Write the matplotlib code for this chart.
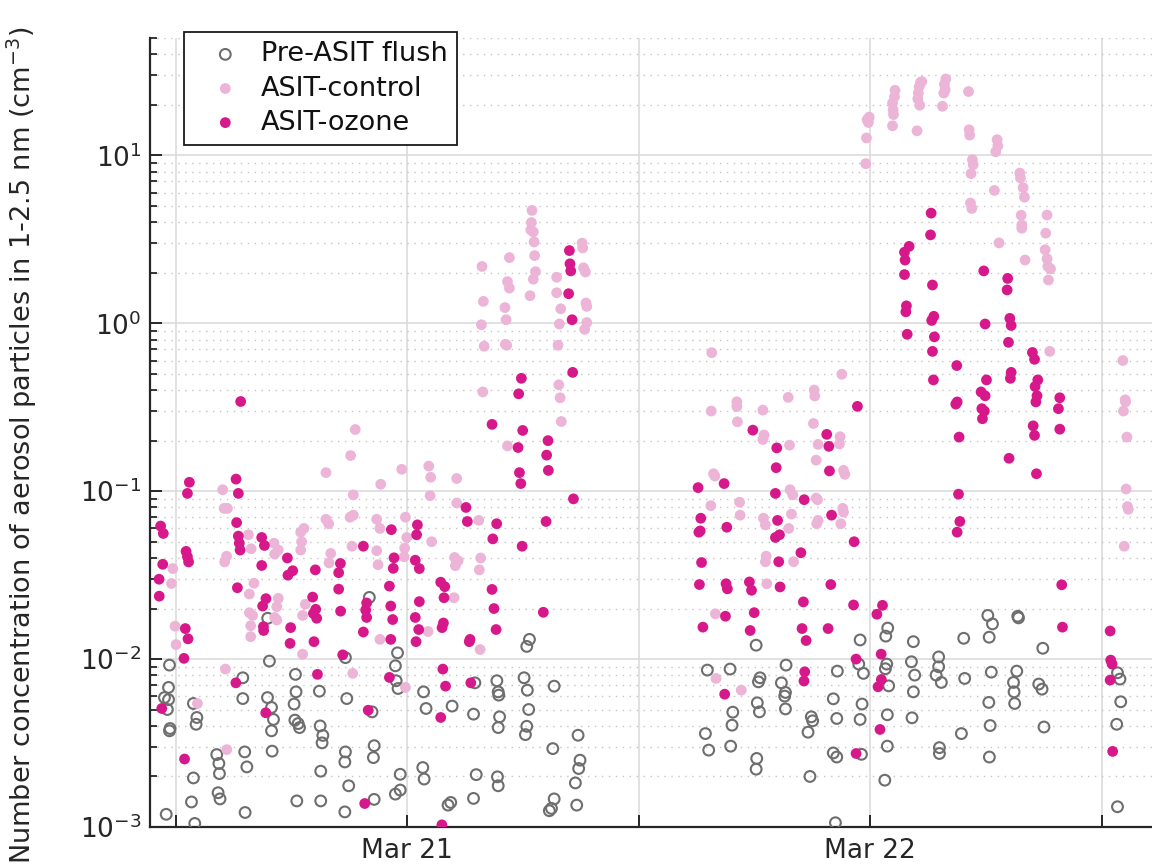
import datetime as dt

import numpy as np
import matplotlib
matplotlib.use("Agg")
import matplotlib.pyplot as plt
import matplotlib.dates as mdates
from matplotlib.ticker import LogLocator, NullFormatter, FuncFormatter


# ============================================================
# Data: hours after Mar 21 00:00, concentration in cm^-3
# ============================================================

pre_hours = [
    -12.33, -12.38, -12.59, -12.38, -12.44, -12.30, -12.33, -12.50, -11.02, -11.09,
    -10.91, -10.95, -11.09, -11.19, -9.88, -9.77, -9.74, -9.81, -9.71, -8.53,
    -8.53, -8.43, -8.32, -8.41, -7.15, -7.25, -7.04, -6.94, -7.04, -7.01,
    -5.80, -5.77, -5.87, -5.83, -5.66, -5.59, -5.73, -4.56, -4.52, -4.38,
    -4.42, -4.49, -4.49, -3.14, -3.21, -3.24, -3.04, -3.24, -3.21, -1.83,
    -1.72, -1.76, -1.72, -0.51, -0.62, -0.58, -0.48, -0.37, -0.62, -0.37,
    0.84, 0.97, 0.80, 0.87, 2.32, 2.11, 2.25, 3.43, 3.57, 3.43,
    3.50, 4.64, 4.71, 4.78, 4.71, 4.67, 4.71, -1.97, -7.24,
    6.33, 6.19, 4.74, 6.05, 6.22, 7.61, 6.29, 6.19, 6.12, 8.85,
    7.54, 8.95, 8.88, 8.71, 7.61, 7.47, 7.36, 8.78,
    24.90, 24.80, 28.84, 30.09, 30.33, 30.16, 31.64, 31.68,
    18.08, 23.47, 26.23, 32.94, 15.55, 16.73, 18.28, 18.20, 19.63, 19.39,
    19.60, 19.56, 19.60, 18.14, 18.25, 16.87, 16.83, 15.45, 15.62, 16.76,
    18.11, 18.08, 20.77, 20.94, 21.01, 20.87, 22.29, 22.08, 22.26, 22.08,
    22.26, 23.40, 23.64, 23.57, 23.47, 23.54, 24.85, 24.78, 24.95, 24.88,
    24.88, 24.75, 22.19, 26.13, 26.30, 26.23, 26.16, 27.54, 27.54, 27.41,
    27.68, 28.89, 30.27, 30.14, 30.21, 30.17, 27.58, 27.58, 28.72, 31.59,
    31.42, 31.45, 31.48, 32.73, 32.90, 33.00, 36.81, 36.94, 36.98, 36.77,
    36.81,
]
pre_conc = [
    0.00921, 0.00678, 0.00590, 0.00574, 0.00501, 0.00386, 0.00374, 0.00119, 0.00105, 0.00544,
    0.00449, 0.00409, 0.00196, 0.00141, 0.00270, 0.00239, 0.00208, 0.00160, 0.00147, 0.00774,
    0.00582, 0.00280, 0.00228, 0.00122, 0.00973, 0.00590, 0.00515, 0.00437, 0.00374, 0.00283,
    0.00811, 0.00638, 0.00540, 0.00433, 0.00413, 0.00391, 0.00143, 0.00644, 0.00400, 0.00351,
    0.00317, 0.00215, 0.00143, 0.00582, 0.00280, 0.00244, 0.00176, 0.00123, 0.0102, 0.00485,
    0.00305, 0.00259, 0.00146, 0.0109, 0.00912, 0.00743, 0.00668, 0.00206, 0.00157, 0.00166,
    0.00638, 0.00508, 0.00226, 0.00193, 0.00525, 0.00135, 0.00140, 0.00470, 0.00205, 0.00148,
    0.00722, 0.00743, 0.00638, 0.00453, 0.00391, 0.00199, 0.00176, 0.0233, 0.0175,
    0.0131, 0.0119, 0.00610, 0.00774, 0.00653, 0.00690, 0.00501, 0.00398, 0.00355, 0.00352,
    0.00293, 0.00250, 0.00223, 0.00183, 0.00147, 0.00129, 0.00125, 0.00135,
    0.0153, 0.0137, 0.0133, 0.0182, 0.0162, 0.0135, 0.0180, 0.0176,
    0.0121, 0.0130, 0.0127, 0.0116, 0.00860, 0.00872, 0.00774, 0.00732, 0.00921, 0.00722,
    0.00633, 0.00602, 0.00505, 0.00549, 0.00485, 0.00483, 0.00404, 0.00360, 0.00287, 0.00303,
    0.00256, 0.00221, 0.00367, 0.00453, 0.00429, 0.00200, 0.00848, 0.00580, 0.00443, 0.00276,
    0.00261, 0.00934, 0.00822, 0.00540, 0.00437, 0.00271, 0.00934, 0.00876, 0.00693, 0.00466,
    0.00303, 0.00190, 0.00106, 0.00964, 0.00803, 0.00638, 0.00447, 0.0103, 0.00900, 0.00803,
    0.00726, 0.00767, 0.00836, 0.00552, 0.00402, 0.00261, 0.00297, 0.00274, 0.00360, 0.00848,
    0.00726, 0.00638, 0.00544, 0.00710, 0.00662, 0.00394, 0.00829, 0.00760, 0.00557, 0.00409,
    0.00132,
]

control_hours = [
    -9.43, -10.88, -9.36, -2.83, -0.10,
    -2.70, -2.94, -4.22, -1.38, -0.29, 1.11, 1.21, 2.56, -9.57, -2.80,
    1.18, 2.56, -9.50, -9.33, -0.10, -4.22, -4.08, -2.97, -2.80, -1.59,
    -1.42, -5.36, -5.53, -5.48, -5.53, -8.24, -8.10, -6.91, -6.69, -6.88,
    -3.97, -4.06, -2.87, -1.59, -0.03, -0.14, -0.17, 1.26, 2.45, 2.63,
    2.49, -9.37, -9.47, -12.16, -12.23, -7.95, -8.19, -1.52, -6.69, -6.77,
    -6.88, -6.77, -5.29, -5.43, -8.19, -8.02, -8.12, -8.12, -12.04, -11.99,
    -1.42, 1.07, 2.42, -5.43,
    6.46, 6.43, 6.40, 6.53, 6.57, 6.60, 6.64, 6.53, 6.36, 5.29,
    3.87, 5.19, 5.29, 3.94, 5.06, 5.12, 3.84, 3.98, 5.08, 5.15,
    9.06, 9.09, 9.13, 9.23, 9.26, 9.30, 9.30, 9.19, 7.74, 7.74,
    7.95, 7.88, 7.81, 7.85, 7.92, 7.98, 3.91, 5.19, 3.70, 3.80,
    3.73, 3.77,
    15.78, 22.52, 21.09, 21.12, 19.74, 17.08, 17.08, 15.75, 18.43, 17.11,
    21.05, 18.49, 18.43, 19.81, 21.29, 22.43, 22.40, 21.19, 15.87, 15.94,
    22.61, 22.68, 19.84, 19.98, 21.19, 21.26, 15.73, 17.22, 17.25, 19.91,
    22.57, 22.61, 18.46, 18.56, 19.77, 21.29, 21.22, 22.47, 18.60, 18.56,
    20.02, 18.63, 15.97, 16.00, 17.31,
    23.76, 23.80, 23.90, 23.94, 23.83, 25.15, 25.20, 25.18, 25.15, 25.25,
    25.28, 26.42, 26.56, 26.46, 26.49, 26.53, 26.60, 26.67, 27.74, 27.81,
    27.88, 27.84, 27.91, 29.09, 29.12, 29.15, 29.29, 29.33, 29.22, 29.19,
    29.26, 30.57, 30.61, 30.50, 30.43, 31.75, 31.78, 31.92, 31.99, 31.82,
    31.85, 31.85, 30.67, 32.02, 33.16, 33.09, 33.06, 33.16, 33.20, 33.34,
    33.23, 33.30,
    37.09, 37.21, 37.23, 37.12, 37.30, 37.26, 37.33, 37.37, 37.16,
]
control_conc = [
    0.00872, 0.00544, 0.00289, 0.00822, 0.00678,
    0.233, 0.163, 0.129, 0.110, 0.135, 0.141, 0.121, 0.119, 0.102, 0.095,
    0.094, 0.085, 0.079, 0.079, 0.070, 0.068, 0.064, 0.070, 0.072, 0.068,
    0.060, 0.060, 0.057, 0.050, 0.0446, 0.055, 0.0454, 0.049, 0.0446, 0.0422,
    0.0426, 0.0374, 0.047, 0.0442, 0.053, 0.0458, 0.0407, 0.050, 0.0403, 0.0385,
    0.0360, 0.0410, 0.0379, 0.0346, 0.0282, 0.0283, 0.0244, 0.0365, 0.0230, 0.0205,
    0.0177, 0.0171, 0.0212, 0.0182, 0.0189, 0.0182, 0.0158, 0.0136, 0.0157, 0.0122,
    0.0131, 0.0146, 0.0232, 0.0107,
    4.70, 3.98, 3.60, 3.50, 3.05, 2.53, 2.03, 1.83, 1.46, 2.46,
    2.18, 1.77, 1.62, 1.35, 1.24, 1.05, 0.98, 0.73, 0.75, 0.74,
    3.00, 2.81, 2.14, 2.02, 1.32, 1.26, 1.01, 0.92, 1.88, 1.52,
    1.22, 0.99, 0.74, 0.43, 0.36, 0.26, 0.39, 0.186, 0.067, 0.040,
    0.034, 0.0114,
    0.668, 0.497, 0.400, 0.369, 0.362, 0.341, 0.319, 0.300, 0.304, 0.259,
    0.253, 0.216, 0.203, 0.188, 0.190, 0.211, 0.191, 0.153, 0.127, 0.123,
    0.133, 0.126, 0.102, 0.095, 0.091, 0.089, 0.082, 0.086, 0.072, 0.073,
    0.079, 0.075, 0.069, 0.063, 0.060, 0.067, 0.064, 0.064, 0.041, 0.038,
    0.038, 0.0281, 0.0186, 0.00767, 0.00653,
    8.92, 12.7, 15.7, 16.9, 16.3, 15.0, 17.5, 18.7, 20.5, 22.3,
    24.4, 14.0, 19.9, 21.7, 23.5, 25.6, 27.2, 27.5, 19.6, 23.5,
    24.6, 26.5, 28.5, 24.0, 14.2, 13.2, 9.42, 8.80, 7.78, 5.20,
    4.83, 12.4, 11.4, 10.5, 6.18, 7.85, 7.33, 6.42, 5.64, 4.40,
    3.85, 3.68, 3.01, 2.38, 4.41, 3.44, 2.74, 2.42, 2.18, 2.11,
    1.81, 0.68,
    0.60, 0.35, 0.34, 0.30, 0.21, 0.103, 0.081, 0.078, 0.047,
]

ozone_hours = [
    -12.73, -11.55, -8.89, -7.34, -4.66, -2.03, -2.21, -0.93, 1.84, 1.98,
    1.73, 3.29, 1.79,
    -8.64, -11.30, -11.40, -8.88, -8.76, -12.79, -12.65, -8.85, -8.76, -8.71,
    -8.67, -7.55, -7.41, -11.47, -11.40, -11.34, -12.68, -12.87, -12.86, -7.55,
    -6.22, -5.94, -6.19, -4.77, -3.47, -3.56, -2.28, -0.83, -0.69, -0.73,
    0.52, 0.48, 0.41, 0.62, 3.04, 3.11, -8.81, -3.56, -0.93, 1.73,
    1.94, 1.90, -7.33, -7.50, -4.91, -4.75, -4.87, -4.70, -3.46, -2.11,
    -2.16, -2.11, -0.86, -0.76, 0.62, 0.41, 0.59, 1.87, 1.80, -11.51,
    -11.37, -11.58, -7.46, -7.45, -6.05, -6.08, -4.84, -2.28, -0.86, 0.45,
    3.25, 3.21, -3.35,
    8.40, 8.43, 8.47, 8.36, 8.54, 8.57, 5.91, 5.77, 4.39, 5.98,
    5.74, 7.29, 7.22, 7.31, 5.81, 5.88, 8.61, 4.63, 7.19, 4.43,
    5.95, 4.39, 4.49, 7.05, 4.60,
    23.33, 17.91, 21.74, 21.85, 19.15, 19.12, 21.88, 16.42, 15.07, 19.08,
    20.57, 15.21, 16.56, 15.11, 15.18, 19.19, 21.99, 19.08, 19.29, 23.16,
    15.25, 19.25, 20.40, 15.14, 16.52, 16.59, 17.73, 17.84, 19.32, 21.95,
    20.53, 23.13, 16.49, 17.98, 15.32, 17.77, 20.46, 21.81, 20.67, 23.26,
    24.34,
    27.15, 27.12, 26.01, 25.77, 25.80, 25.77, 27.22, 29.88, 31.12, 31.09,
    25.87, 25.84, 27.29, 27.18, 29.95, 31.23, 31.30, 25.91, 27.32, 31.16,
    27.22, 32.40, 32.51,
    28.48, 31.30, 31.26, 27.27, 30.02, 32.68, 32.54, 29.74, 29.95, 32.64,
    32.58, 28.50, 28.43, 33.82, 33.75, 29.78, 29.91, 29.81, 33.82, 32.44,
    32.51, 28.60, 31.19, 32.61, 28.57, 28.64, 28.50, 33.92, 24.63, 33.96,
    24.56,
    20.60, 20.56, 24.57, 24.40, 16.45, 24.50, 23.26, 36.46, 36.53, 36.43,
    36.56, 36.43,
]
ozone_conc = [
    0.00508, 0.00254, 0.00722, 0.00479, 0.00811, 0.00496, 0.00138, 0.00778, 0.00872, 0.00690,
    0.00449, 0.00722, 0.00103,
    0.342, 0.113, 0.097, 0.118, 0.097, 0.062, 0.056, 0.065, 0.054, 0.049,
    0.0446, 0.053, 0.0475, 0.0438, 0.0407, 0.0379, 0.0367, 0.0299, 0.0237, 0.0361,
    0.0400, 0.0336, 0.0316, 0.0340, 0.0371, 0.0327, 0.047, 0.059, 0.0401, 0.0347,
    0.063, 0.055, 0.0388, 0.0346, 0.080, 0.066, 0.0266, 0.0261, 0.0272, 0.0287,
    0.0270, 0.0232, 0.0229, 0.0207, 0.0234, 0.0198, 0.0187, 0.0175, 0.0193, 0.0216,
    0.0196, 0.0177, 0.0207, 0.0172, 0.0220, 0.0177, 0.0150, 0.0164, 0.0154, 0.0152,
    0.0132, 0.0101, 0.0156, 0.0148, 0.0154, 0.0124, 0.0127, 0.0145, 0.0131, 0.0127,
    0.0131, 0.0127, 0.0106,
    2.71, 2.26, 2.05, 1.50, 1.05, 0.51, 0.47, 0.38, 0.25, 0.23,
    0.182, 0.20, 0.164, 0.133, 0.129, 0.111, 0.090, 0.064, 0.066, 0.052,
    0.047, 0.026, 0.020, 0.019, 0.015,
    0.320, 0.231, 0.218, 0.185, 0.181, 0.138, 0.132, 0.111, 0.105, 0.097,
    0.089, 0.069, 0.061, 0.057, 0.058, 0.067, 0.072, 0.053, 0.055, 0.050,
    0.0376, 0.038, 0.043, 0.0278, 0.0281, 0.0262, 0.0288, 0.0257, 0.0269, 0.0278,
    0.0219, 0.0210, 0.0180, 0.0189, 0.0155, 0.0148, 0.0152, 0.0152, 0.0129, 0.0100,
    0.0185,
    4.53, 3.36, 2.87, 2.65, 2.38, 1.95, 1.69, 2.05, 1.85, 1.58,
    1.27, 1.17, 1.10, 1.04, 0.99, 1.07, 0.97, 0.86, 0.83, 0.77,
    0.68, 0.67, 0.61,
    0.56, 0.51, 0.47, 0.46, 0.46, 0.46, 0.42, 0.39, 0.37, 0.37,
    0.34, 0.34, 0.33, 0.36, 0.31, 0.31, 0.30, 0.27, 0.234, 0.245,
    0.215, 0.210, 0.157, 0.127, 0.096, 0.066, 0.057, 0.0277, 0.0209, 0.0155,
    0.0107,
    0.00840, 0.00740, 0.00756, 0.00684, 0.00618, 0.00381, 0.00274, 0.00986, 0.00934, 0.00750,
    0.00282, 0.0147,
]

start = dt.datetime(2021, 3, 21)
t0 = mdates.date2num(start)


def to_num(hours):
    return t0 + np.asarray(hours) / 24.0


# ============================================================
# Figure
# ============================================================

plt.rcParams["font.family"] = "DejaVu Sans"
text_color = "#262626"

fig = plt.figure(figsize=(11.52, 8.68), dpi=100)
ax = fig.add_axes([150 / 1152, 1 - 827 / 868, 1 - 150 / 1152, (827 - 38) / 868])

ax.scatter(to_num(pre_hours), pre_conc, s=60, facecolors="none",
           edgecolors="#6e6e6e", linewidths=1.5, zorder=3, label="Pre-ASIT flush")
ax.scatter(to_num(control_hours), control_conc, s=60, color="#ecb4d6",
           edgecolors="none", zorder=4, label="ASIT-control")
ax.scatter(to_num(ozone_hours), ozone_conc, s=60, color="#d6188a",
           edgecolors="none", zorder=5, label="ASIT-ozone")

ax.set_yscale("log")
ax.set_ylim(1e-3, 50)
ax.set_xlim(to_num(-13.34), to_num(38.6))

ax.yaxis.set_major_locator(LogLocator(base=10, numticks=10))
ax.yaxis.set_minor_locator(LogLocator(base=10, subs=np.arange(2, 10), numticks=20))
ax.yaxis.set_minor_formatter(NullFormatter())

ax.xaxis.set_major_locator(mdates.HourLocator(byhour=[0, 12]))


def date_label(x, pos):
    d = mdates.num2date(x)
    if d.hour == 0:
        return d.strftime("%b %d")
    return ""


ax.xaxis.set_major_formatter(FuncFormatter(date_label))

ax.grid(True, which="major", color="#dcdcdc", linewidth=1.2, linestyle="-", zorder=0)
ax.grid(True, which="minor", axis="y", color="#c4c4c4", linewidth=1.0,
        linestyle=(0, (1, 4)), zorder=0)
ax.set_axisbelow(True)

for side in ["top", "right"]:
    ax.spines[side].set_visible(False)
for side in ["left", "bottom"]:
    ax.spines[side].set_color(text_color)
    ax.spines[side].set_linewidth(1.6)

ax.tick_params(which="major", direction="in", length=8.5, width=1.4,
               labelsize=19, colors=text_color, pad=6)
ax.tick_params(which="minor", direction="in", length=5, width=1.3, colors=text_color)
ax.tick_params(axis="x", pad=8)

fig.text(22 / 1152, 1 - 445 / 868,
         "Number concentration of aerosol particles in 1-2.5 nm (cm$^{-3}$)",
         rotation=90, ha="center", va="center", fontsize=19.5, color=text_color)

leg = ax.legend(loc="upper left", bbox_to_anchor=(184 / 1152, 1 - 32 / 868),
                bbox_transform=fig.transFigure, borderaxespad=0, fontsize=19.5,
                frameon=True, fancybox=False, framealpha=1, edgecolor="#1a1a1a",
                handletextpad=0.15, labelspacing=0.3, borderpad=0.35,
                handlelength=2.35)
leg.get_frame().set_linewidth(1.3)
for txt in leg.get_texts():
    txt.set_color("#111111")

fig.savefig("out.png", dpi=100)
